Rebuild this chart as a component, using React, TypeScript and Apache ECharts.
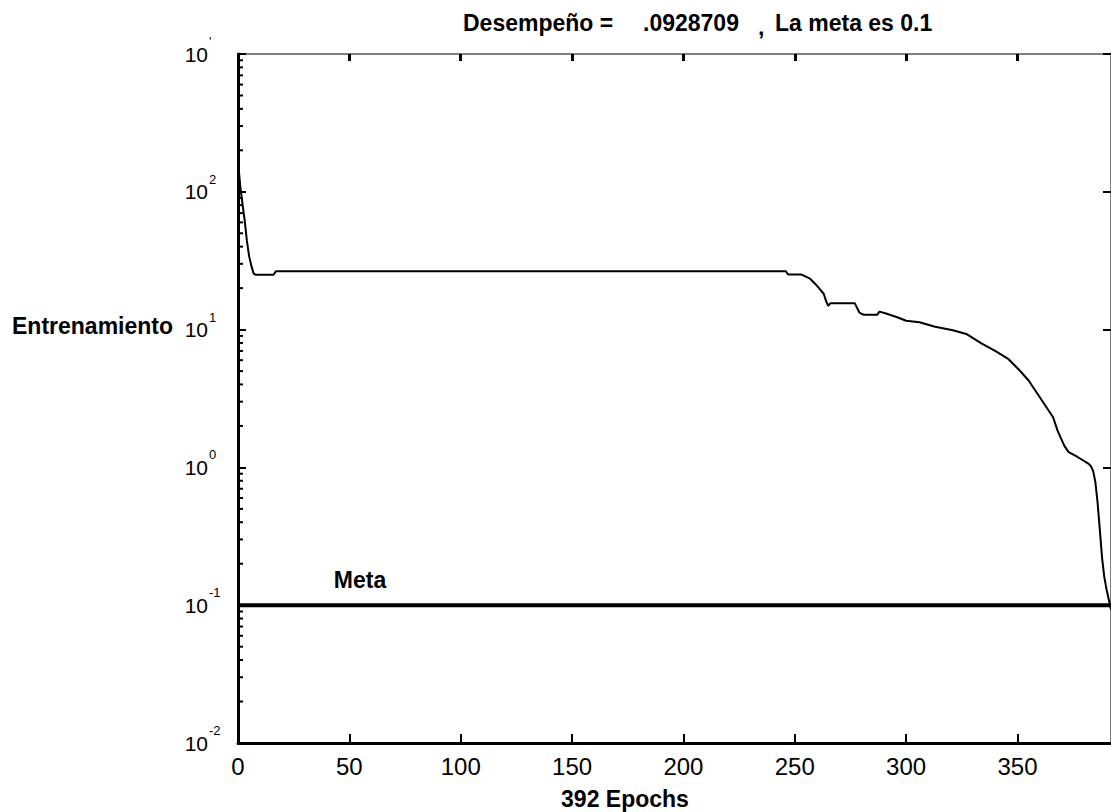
import React, { useEffect, useRef } from "react";
import * as echarts from "echarts";

const epochs = [0, 1, 2, 3, 4, 5, 6, 7, 8, 16, 17, 246, 247, 253, 255, 257, 260, 263, 264, 265, 266, 277, 279, 281, 287, 288, 291, 296, 300, 306, 313, 321, 327, 334, 340, 346, 351, 355, 361, 366, 368, 371, 373, 377, 382, 383, 384, 385, 386, 387, 388, 389, 390, 391, 392];
const performance = [168, 110, 82, 62, 44, 34, 29, 25.5, 25, 25, 26.5, 26.5, 25.1, 25.1, 24.2, 23.3, 20.8, 18.2, 16.2, 14.9, 15.5, 15.5, 13.3, 12.8, 12.8, 13.5, 13.1, 12.3, 11.6, 11.3, 10.5, 9.9, 9.3, 7.9, 7.0, 6.1, 5.05, 4.27, 3.06, 2.31, 1.85, 1.44, 1.29, 1.19, 1.06, 1.02, 0.94, 0.78, 0.55, 0.35, 0.22, 0.16, 0.13, 0.11, 0.0928709];
const goalValue = 0.1;
const goalEpochs = [0, 392];
const goalLabelPoint = [55, 0.15];
const xTickValues = [0, 50, 100, 150, 200, 250, 300, 350];
const minorTickValues = [2, 3, 4, 5, 6, 7, 8, 9, 20, 30, 40, 50, 60, 70, 80, 90, 200, 300, 400, 500, 600, 700, 800, 900, 0.2, 0.3, 0.4, 0.5, 0.6, 0.7, 0.8, 0.9, 0.02, 0.03, 0.04, 0.05, 0.06, 0.07, 0.08, 0.09];
const yMin = 0.01;
const yMax = 1000;
const xMax = 392;
const titleParts = ["Desempeño =", ".0928709", ",", "La meta es 0.1"];
const yAxisTitle = "Entrenamiento";
const xAxisTitle = "392 Epochs";
const goalLabel = "Meta";

const FONT = '"Liberation Sans", Arial, sans-serif';

export default function App() {
  const ref = useRef<HTMLDivElement>(null);
  useEffect(() => {
    if (!ref.current) return;
    const chart = echarts.init(ref.current, null, { renderer: "svg" });
    const boldFont = `bold 23px ${FONT}`;
    const expOf = (v: number) => Math.round(Math.log10(v));
    const option: any = {
      animation: false,
      backgroundColor: "#ffffff",
      grid: { left: 238, top: 54, width: 880, height: 689, containLabel: false },
      xAxis: [
        {
          type: "value",
          min: 0,
          max: xMax,
          position: "bottom",
          splitLine: { show: false },
          axisLine: { show: true, onZero: false, lineStyle: { color: "#000", width: 3 } },
          axisTick: { show: true, inside: true, length: 9, lineStyle: { color: "#000", width: 2 }, customValues: xTickValues },
          axisLabel: { show: true, margin: 11, color: "#000", fontSize: 24, fontFamily: FONT, customValues: xTickValues },
        },
        {
          type: "value",
          min: 0,
          max: xMax,
          position: "top",
          splitLine: { show: false },
          axisLine: { show: true, onZero: false, lineStyle: { color: "#555", width: 1.5 } },
          axisTick: { show: true, inside: true, length: 7, lineStyle: { color: "#000", width: 3 }, customValues: xTickValues },
          axisLabel: { show: false },
        },
      ],
      yAxis: [
        {
          type: "log",
          logBase: 10,
          min: yMin,
          max: yMax,
          position: "left",
          splitLine: { show: false },
          minorTick: { show: false },
          axisLine: { show: true, onZero: false, lineStyle: { color: "#000", width: 3 } },
          axisTick: { show: true, inside: true, length: 8, lineStyle: { color: "#000", width: 2 } },
          axisLabel: {
            show: true,
            margin: 30,
            align: "right",
            color: "#000",
            fontSize: 21,
            fontFamily: FONT,
            formatter: () => "10",
          },
        },
        {
          type: "log",
          logBase: 10,
          min: yMin,
          max: yMax,
          position: "right",
          splitLine: { show: false },
          axisLine: { show: true, onZero: false, lineStyle: { color: "#555", width: 1.5 } },
          axisTick: { show: true, inside: true, length: 8, lineStyle: { color: "#000", width: 2 } },
          axisLabel: { show: false },
        },
        {
          type: "log",
          logBase: 10,
          min: yMin,
          max: yMax,
          position: "left",
          splitLine: { show: false },
          axisLine: { show: false },
          axisTick: { show: false },
          axisLabel: {
            show: true,
            margin: 29,
            align: "left",
            verticalAlign: "bottom",
            padding: [0, 0, 6, 0],
            color: "#000",
            fontSize: 13,
            fontFamily: FONT,
            formatter: (v: number) => (expOf(v) === 3 ? "'" : String(expOf(v))),
          },
        },
      ],
      series: [
        {
          type: "line",
          xAxisIndex: 0,
          yAxisIndex: 0,
          data: epochs.map((e, i) => [e, performance[i]]),
          showSymbol: false,
          symbol: "none",
          lineStyle: { color: "#000", width: 2 },
          z: 5,
        },
        {
          type: "line",
          xAxisIndex: 0,
          yAxisIndex: 0,
          data: goalEpochs.map((e) => [e, goalValue]),
          showSymbol: false,
          symbol: "none",
          lineStyle: { color: "#000", width: 4 },
          z: 4,
        },
        {
          type: "scatter",
          xAxisIndex: 0,
          yAxisIndex: 0,
          data: [goalLabelPoint],
          symbolSize: 1,
          itemStyle: { color: "rgba(0,0,0,0)", opacity: 1 },
          label: {
            show: true,
            position: [0, 0],
            align: "center",
            verticalAlign: "middle",
            formatter: goalLabel,
            color: "#000",
            fontSize: 23,
            fontWeight: "bold",
            fontFamily: FONT,
          },
          silent: true,
        },
        {
          type: "custom",
          xAxisIndex: 0,
          yAxisIndex: 0,
          data: minorTickValues.map((v) => [0, v]),
          clip: false,
          silent: true,
          renderItem: (params: any, api: any) => {
            const p = api.coord([api.value(0), api.value(1)]);
            return {
              type: "line",
              shape: { x1: p[0], y1: p[1], x2: p[0] + 5, y2: p[1] },
              style: { stroke: "#000", lineWidth: 2 },
            };
          },
        },
      ],
      graphic: [
        { type: "text", x: 463, y: 23, style: { text: titleParts[0], font: boldFont, fill: "#000", align: "left", verticalAlign: "middle" } },
        { type: "text", x: 643, y: 23, style: { text: titleParts[1], font: boldFont, fill: "#000", align: "left", verticalAlign: "middle" } },
        { type: "text", x: 758, y: 27, style: { text: titleParts[2], font: boldFont, fill: "#000", align: "left", verticalAlign: "middle" } },
        { type: "text", x: 775, y: 23, style: { text: titleParts[3], font: boldFont, fill: "#000", align: "left", verticalAlign: "middle" } },
        { type: "text", x: 12, y: 326, style: { text: yAxisTitle, font: boldFont, fill: "#000", align: "left", verticalAlign: "middle" } },
        { type: "text", x: 625, y: 799, style: { text: xAxisTitle, font: boldFont, fill: "#000", align: "center", verticalAlign: "middle" } },
      ],
    };
    chart.setOption(option);
    return () => chart.dispose();
  }, []);
  return (
    <div
      ref={ref}
      style={{ position: "absolute", left: 0, top: 0, width: 1111, height: 812, background: "#fff" }}
    />
  );
}
